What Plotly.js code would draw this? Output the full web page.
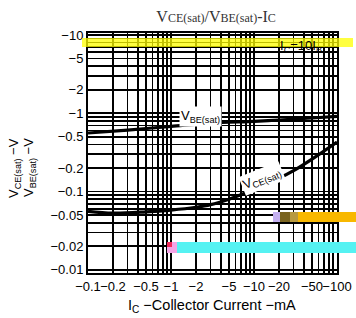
<!DOCTYPE html>
<html>
<head>
<meta charset="utf-8">
<script src="https://cdn.plot.ly/plotly-3.0.1.min.js"></script>
<style>html,body{margin:0;padding:0;background:#fff}#chart{width:356px;height:318px}</style>
</head>
<body>
<div id="chart"></div>
<script>
// Collector current (mA, magnitude) and voltages (V, magnitude) — PNP, shown as negative
const icVbe = [0.1, 0.3, 1, 3, 10, 20, 50, 100];
const vbeSat = [0.56, 0.61, 0.68, 0.75, 0.79, 0.82, 0.87, 0.91];
const icVce = [0.1, 0.2, 0.5, 1, 2, 3, 5, 10, 20, 30, 50, 100];
const vceSat = [0.056, 0.053, 0.055, 0.058, 0.063, 0.068, 0.080, 0.106, 0.148, 0.185, 0.26, 0.43];

const xTickVals = [0.1, 0.2, 0.5, 1, 2, 5, 10, 20, 50, 100];
const xTickText = ["−0.1", "−0.2", "−0.5", "−1", "−2", "−5", "−10", "−20", "−50", "−100"];
const yTickVals = [10, 5, 2, 1, 0.5, 0.2, 0.1, 0.05, 0.02, 0.01];
const yTickText = ["−10", "−5", "−2", "−1", "−0.5", "−0.2", "−0.1", "−0.05", "−0.02", "−0.01"];

function gridTicks(decStart, decEnd, vals, texts) {
  const tv = [], tt = [];
  for (let d = decStart; d <= decEnd; d++) {
    for (let m = 1; m <= 9; m++) {
      if (d === decEnd && m > 1) break;
      const v = +(m * Math.pow(10, d)).toPrecision(6);
      tv.push(v);
      const idx = vals.findIndex(u => Math.abs(u - v) / v < 1e-6);
      tt.push(idx >= 0 ? texts[idx] : "");
    }
  }
  return {tv, tt};
}
const xg = gridTicks(-1, 2, xTickVals, xTickText);
const yg = gridTicks(-2, 1, yTickVals, yTickText);

const sans = "Liberation Sans, Arial, sans-serif";
const tickFont = {family: sans, size: 13, color: "#000"};

const traces = [
  {x: icVbe, y: vbeSat, mode: "lines", line: {color: "#000", width: 3.2, shape: "spline"}, hoverinfo: "skip"},
  {x: icVce, y: vceSat, mode: "lines", line: {color: "#000", width: 3.2, shape: "spline"}, hoverinfo: "skip"}
];

function px(x) { return (x - 88) / 249; }
function py(y) { return (273 - y) / 240; }

const layout = {
  width: 356, height: 318,
  margin: {l: 88, r: 19, t: 33, b: 45},
  paper_bgcolor: "#fff", plot_bgcolor: "#fff",
  showlegend: false,
  title: {
    text: "V<span style='font-size:12px'>CE(sat)</span>/V<span style='font-size:12px'>BE(sat)</span>-I<span style='font-size:12px'>C</span>",
    font: {family: "Liberation Serif, Times New Roman, serif", size: 16, color: "#333"},
    x: 0.607, xref: "container", xanchor: "center", y: 0.95, yref: "container", yanchor: "middle"
  },
  xaxis: {
    type: "log", range: [-1, 2], tickmode: "array", tickvals: xg.tv, ticktext: xg.tt,
    showgrid: true, gridcolor: "#000", gridwidth: 1.7, ticks: "", showline: true, linecolor: "#000",
    linewidth: 2, mirror: true, zeroline: false, tickfont: tickFont, tickangle: 0
  },
  yaxis: {
    type: "log", range: [-2.04, 1.025], tickmode: "array", tickvals: yg.tv, ticktext: yg.tt,
    showgrid: true, gridcolor: "#000", gridwidth: 1.7, ticks: "", showline: true, linecolor: "#000",
    linewidth: 2, mirror: true, zeroline: false, tickfont: tickFont
  },
  shapes: [
    {type: "rect", xref: "paper", yref: "paper", x0: px(253), x1: px(335), y0: py(60), y1: py(38), fillcolor: "#fff", line: {width: 0}, layer: "between"},
    {type: "rect", xref: "paper", yref: "paper", x0: px(82), x1: px(353), y0: py(47), y1: py(38), fillcolor: "#ffff00", opacity: 0.75, line: {width: 0}, layer: "above"},
    {type: "rect", xref: "paper", yref: "paper", x0: px(273), x1: px(280), y0: py(222), y1: py(212), fillcolor: "#c4b0f0", line: {width: 0}, layer: "above"},
    {type: "rect", xref: "paper", yref: "paper", x0: px(280), x1: px(290), y0: py(222), y1: py(212), fillcolor: "#7a6420", line: {width: 0}, layer: "above"},
    {type: "rect", xref: "paper", yref: "paper", x0: px(290), x1: px(298), y0: py(222), y1: py(212), fillcolor: "#b89a40", line: {width: 0}, layer: "above"},
    {type: "rect", xref: "paper", yref: "paper", x0: px(298), x1: px(356), y0: py(222), y1: py(212), fillcolor: "#f8b800", line: {width: 0}, layer: "above"},
    {type: "rect", xref: "paper", yref: "paper", x0: px(177), x1: px(356), y0: py(253), y1: py(242), fillcolor: "#55f2f2", line: {width: 0}, layer: "above"},
    {type: "rect", xref: "paper", yref: "paper", x0: px(167), x1: px(177), y0: py(253), y1: py(242), fillcolor: "#f4a4e4", line: {width: 0}, layer: "above"},
    {type: "rect", xref: "paper", yref: "paper", x0: px(167), x1: px(172), y0: py(247), y1: py(242), fillcolor: "#f02858", line: {width: 0}, layer: "above"}
  ],
  annotations: [
    {xref: "paper", yref: "paper", x: px(200), y: py(116), xanchor: "center", yanchor: "middle", text: "V<sub>BE(sat)</sub>", showarrow: false,
     bgcolor: "#fff", font: {family: sans, size: 13, color: "#000"}, borderpad: 1},
    {xref: "paper", yref: "paper", x: px(262), y: py(178), xanchor: "center", yanchor: "middle", text: "V<sub>CE(sat)</sub>", showarrow: false, textangle: -22,
     bgcolor: "#fff", font: {family: sans, size: 13, color: "#000"}, borderpad: 1},
    {xref: "paper", yref: "paper", x: px(301), y: py(46), xanchor: "center", yanchor: "middle", text: "I<sub>C</sub>=10I<sub>B</sub>", showarrow: false,
     font: {family: sans, size: 13, color: "#000"}},
    {xref: "paper", yref: "paper", x: px(14), y: py(168), xanchor: "center", yanchor: "middle", text: "V<sub>CE(sat)</sub> −V", showarrow: false, textangle: -90,
     font: {family: sans, size: 13, color: "#000"}},
    {xref: "paper", yref: "paper", x: px(29), y: py(168), xanchor: "center", yanchor: "middle", text: "V<sub>BE(sat)</sub> −V", showarrow: false, textangle: -90,
     font: {family: sans, size: 13, color: "#000"}},
    {xref: "paper", yref: "paper", x: px(212), y: py(306), xanchor: "center", yanchor: "middle", text: "I<sub>C</sub> −Collector Current −mA", showarrow: false,
     font: {family: sans, size: 14.5, color: "#000"}}
  ]
};

Plotly.newPlot("chart", traces, layout, {staticPlot: true, displayModeBar: false});
</script>
</body>
</html>
